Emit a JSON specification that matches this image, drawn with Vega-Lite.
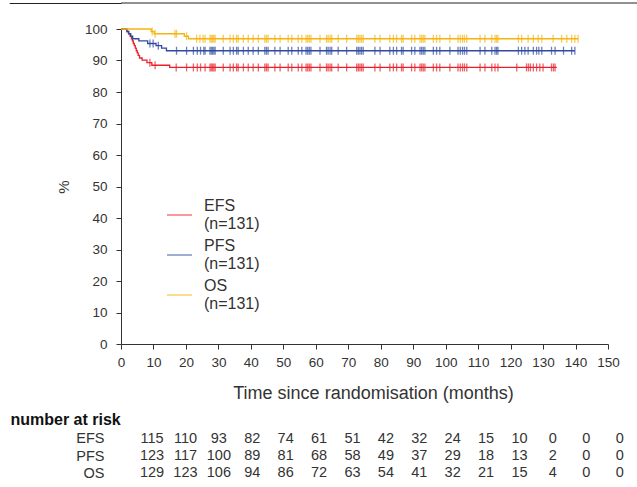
{
  "$schema": "https://vega.github.io/schema/vega-lite/v6.json",
  "padding": {"left": 0, "top": 0, "right": 0, "bottom": 0},
  "spacing": 8,
  "config": {
    "font": "Liberation Sans",
    "view": {"stroke": null},
    "axis": {"grid": false, "domainColor": "#333", "tickColor": "#333", "labelColor": "#333", "titleColor": "#333", "titleFontWeight": "normal", "labelFlush": false, "labelOverlap": false, "labelBound": false}
  },
  "datasets": {
    "km": [
      {"g": "EFS", "t": 0, "s": 100}, {"g": "EFS", "t": 1.8, "s": 99.2}, {"g": "EFS", "t": 2.3, "s": 98.5}, {"g": "EFS", "t": 2.8, "s": 97.7}, {"g": "EFS", "t": 3.2, "s": 96.9}, {"g": "EFS", "t": 3.5, "s": 96.2}, {"g": "EFS", "t": 3.8, "s": 95.4}, {"g": "EFS", "t": 4.1, "s": 94.7}, {"g": "EFS", "t": 4.4, "s": 93.9}, {"g": "EFS", "t": 4.7, "s": 93.1}, {"g": "EFS", "t": 5.0, "s": 92.4}, {"g": "EFS", "t": 5.3, "s": 91.6}, {"g": "EFS", "t": 5.7, "s": 90.8}, {"g": "EFS", "t": 6.5, "s": 90.1}, {"g": "EFS", "t": 8.0, "s": 89.3}, {"g": "EFS", "t": 9.5, "s": 88.5}, {"g": "EFS", "t": 15.0, "s": 87.8}, {"g": "EFS", "t": 134.2, "s": 87.8},
      {"g": "PFS", "t": 0, "s": 100}, {"g": "PFS", "t": 1.8, "s": 99.2}, {"g": "PFS", "t": 2.4, "s": 98.5}, {"g": "PFS", "t": 3.0, "s": 97.7}, {"g": "PFS", "t": 3.6, "s": 96.9}, {"g": "PFS", "t": 5.5, "s": 96.2}, {"g": "PFS", "t": 8.2, "s": 95.4}, {"g": "PFS", "t": 10.8, "s": 94.7}, {"g": "PFS", "t": 12.5, "s": 93.9}, {"g": "PFS", "t": 14.0, "s": 93.1}, {"g": "PFS", "t": 139.8, "s": 93.1},
      {"g": "OS", "t": 0, "s": 100}, {"g": "OS", "t": 9.3, "s": 99.2}, {"g": "OS", "t": 10.2, "s": 98.5}, {"g": "OS", "t": 19.5, "s": 97.7}, {"g": "OS", "t": 20.8, "s": 96.9}, {"g": "OS", "t": 140.8, "s": 96.9}
    ],
    "cens": [
      {"g": "OS", "t": 9.6, "s": 99.2}, {"g": "OS", "t": 10.5, "s": 98.5}, {"g": "OS", "t": 16.6, "s": 98.5}, {"g": "OS", "t": 17.1, "s": 98.5}, {"g": "OS", "t": 20.2, "s": 97.7},
      {"g": "OS", "t": 23.3, "s": 96.9}, {"g": "OS", "t": 24.3, "s": 96.9}, {"g": "OS", "t": 25.3, "s": 96.9}, {"g": "OS", "t": 25.9, "s": 96.9}, {"g": "OS", "t": 27.4, "s": 96.9}, {"g": "OS", "t": 27.8, "s": 96.9}, {"g": "OS", "t": 28.2, "s": 96.9}, {"g": "OS", "t": 28.6, "s": 96.9}, {"g": "OS", "t": 29.0, "s": 96.9},
      {"g": "OS", "t": 31.5, "s": 96.9}, {"g": "OS", "t": 33.6, "s": 96.9}, {"g": "OS", "t": 34.6, "s": 96.9}, {"g": "OS", "t": 35.6, "s": 96.9}, {"g": "OS", "t": 36.1, "s": 96.9}, {"g": "OS", "t": 37.7, "s": 96.9}, {"g": "OS", "t": 39.2, "s": 96.9}, {"g": "OS", "t": 40.7, "s": 96.9}, {"g": "OS", "t": 42.3, "s": 96.9}, {"g": "OS", "t": 44.3, "s": 96.9}, {"g": "OS", "t": 44.8, "s": 96.9}, {"g": "OS", "t": 45.3, "s": 96.9}, {"g": "OS", "t": 47.4, "s": 96.9}, {"g": "OS", "t": 49.0, "s": 96.9}, {"g": "OS", "t": 51.5, "s": 96.9}, {"g": "OS", "t": 52.6, "s": 96.9}, {"g": "OS", "t": 54.6, "s": 96.9}, {"g": "OS", "t": 55.7, "s": 96.9}, {"g": "OS", "t": 57.0, "s": 96.9}, {"g": "OS", "t": 57.5, "s": 96.9}, {"g": "OS", "t": 58.0, "s": 96.9}, {"g": "OS", "t": 58.5, "s": 96.9},
      {"g": "OS", "t": 61.3, "s": 96.9}, {"g": "OS", "t": 63.3, "s": 96.9}, {"g": "OS", "t": 63.8, "s": 96.9}, {"g": "OS", "t": 64.4, "s": 96.9}, {"g": "OS", "t": 64.9, "s": 96.9}, {"g": "OS", "t": 66.9, "s": 96.9}, {"g": "OS", "t": 69.5, "s": 96.9}, {"g": "OS", "t": 72.6, "s": 96.9}, {"g": "OS", "t": 73.1, "s": 96.9}, {"g": "OS", "t": 73.6, "s": 96.9}, {"g": "OS", "t": 74.1, "s": 96.9}, {"g": "OS", "t": 74.6, "s": 96.9}, {"g": "OS", "t": 78.2, "s": 96.9}, {"g": "OS", "t": 79.8, "s": 96.9}, {"g": "OS", "t": 82.8, "s": 96.9}, {"g": "OS", "t": 83.9, "s": 96.9}, {"g": "OS", "t": 84.9, "s": 96.9}, {"g": "OS", "t": 86.4, "s": 96.9}, {"g": "OS", "t": 86.9, "s": 96.9}, {"g": "OS", "t": 89.5, "s": 96.9}, {"g": "OS", "t": 90.5, "s": 96.9}, {"g": "OS", "t": 92.1, "s": 96.9}, {"g": "OS", "t": 92.6, "s": 96.9}, {"g": "OS", "t": 93.1, "s": 96.9}, {"g": "OS", "t": 93.6, "s": 96.9}, {"g": "OS", "t": 96.2, "s": 96.9}, {"g": "OS", "t": 97.2, "s": 96.9}, {"g": "OS", "t": 98.2, "s": 96.9},
      {"g": "OS", "t": 101.3, "s": 96.9}, {"g": "OS", "t": 103.8, "s": 96.9}, {"g": "OS", "t": 104.5, "s": 96.9}, {"g": "OS", "t": 105.2, "s": 96.9}, {"g": "OS", "t": 105.8, "s": 96.9}, {"g": "OS", "t": 106.5, "s": 96.9}, {"g": "OS", "t": 110.6, "s": 96.9}, {"g": "OS", "t": 112.1, "s": 96.9}, {"g": "OS", "t": 114.2, "s": 96.9}, {"g": "OS", "t": 115.2, "s": 96.9}, {"g": "OS", "t": 115.7, "s": 96.9}, {"g": "OS", "t": 116.1, "s": 96.9}, {"g": "OS", "t": 122.4, "s": 96.9}, {"g": "OS", "t": 123.4, "s": 96.9}, {"g": "OS", "t": 125.4, "s": 96.9}, {"g": "OS", "t": 127.0, "s": 96.9}, {"g": "OS", "t": 128.5, "s": 96.9}, {"g": "OS", "t": 129.6, "s": 96.9}, {"g": "OS", "t": 133.1, "s": 96.9}, {"g": "OS", "t": 135.7, "s": 96.9}, {"g": "OS", "t": 137.3, "s": 96.9}, {"g": "OS", "t": 138.8, "s": 96.9}, {"g": "OS", "t": 139.8, "s": 96.9}, {"g": "OS", "t": 140.8, "s": 96.9},

      {"g": "PFS", "t": 8.9, "s": 95.4}, {"g": "PFS", "t": 9.9, "s": 95.4}, {"g": "PFS", "t": 11.5, "s": 94.7}, {"g": "PFS", "t": 17.1, "s": 93.1}, {"g": "PFS", "t": 20.2, "s": 93.1}, {"g": "PFS", "t": 22.3, "s": 93.1}, {"g": "PFS", "t": 23.5, "s": 93.1}, {"g": "PFS", "t": 24.5, "s": 93.1}, {"g": "PFS", "t": 25.5, "s": 93.1}, {"g": "PFS", "t": 25.9, "s": 93.1}, {"g": "PFS", "t": 27.4, "s": 93.1}, {"g": "PFS", "t": 27.8, "s": 93.1}, {"g": "PFS", "t": 28.2, "s": 93.1}, {"g": "PFS", "t": 28.6, "s": 93.1}, {"g": "PFS", "t": 29.0, "s": 93.1},
      {"g": "PFS", "t": 31.5, "s": 93.1}, {"g": "PFS", "t": 33.6, "s": 93.1}, {"g": "PFS", "t": 34.6, "s": 93.1}, {"g": "PFS", "t": 35.6, "s": 93.1}, {"g": "PFS", "t": 36.1, "s": 93.1}, {"g": "PFS", "t": 37.7, "s": 93.1}, {"g": "PFS", "t": 39.2, "s": 93.1}, {"g": "PFS", "t": 40.7, "s": 93.1}, {"g": "PFS", "t": 42.3, "s": 93.1}, {"g": "PFS", "t": 44.3, "s": 93.1}, {"g": "PFS", "t": 44.8, "s": 93.1}, {"g": "PFS", "t": 45.3, "s": 93.1}, {"g": "PFS", "t": 47.4, "s": 93.1}, {"g": "PFS", "t": 49.0, "s": 93.1}, {"g": "PFS", "t": 51.5, "s": 93.1}, {"g": "PFS", "t": 52.6, "s": 93.1}, {"g": "PFS", "t": 54.6, "s": 93.1}, {"g": "PFS", "t": 55.7, "s": 93.1}, {"g": "PFS", "t": 57.0, "s": 93.1}, {"g": "PFS", "t": 57.5, "s": 93.1}, {"g": "PFS", "t": 58.0, "s": 93.1}, {"g": "PFS", "t": 58.5, "s": 93.1},
      {"g": "PFS", "t": 61.3, "s": 93.1}, {"g": "PFS", "t": 63.3, "s": 93.1}, {"g": "PFS", "t": 63.8, "s": 93.1}, {"g": "PFS", "t": 64.4, "s": 93.1}, {"g": "PFS", "t": 64.9, "s": 93.1}, {"g": "PFS", "t": 66.9, "s": 93.1}, {"g": "PFS", "t": 69.5, "s": 93.1}, {"g": "PFS", "t": 72.6, "s": 93.1}, {"g": "PFS", "t": 73.1, "s": 93.1}, {"g": "PFS", "t": 73.6, "s": 93.1}, {"g": "PFS", "t": 74.1, "s": 93.1}, {"g": "PFS", "t": 74.6, "s": 93.1}, {"g": "PFS", "t": 78.2, "s": 93.1}, {"g": "PFS", "t": 79.8, "s": 93.1}, {"g": "PFS", "t": 82.8, "s": 93.1}, {"g": "PFS", "t": 83.9, "s": 93.1}, {"g": "PFS", "t": 84.9, "s": 93.1}, {"g": "PFS", "t": 86.4, "s": 93.1}, {"g": "PFS", "t": 86.9, "s": 93.1}, {"g": "PFS", "t": 89.5, "s": 93.1}, {"g": "PFS", "t": 90.5, "s": 93.1}, {"g": "PFS", "t": 92.1, "s": 93.1}, {"g": "PFS", "t": 92.6, "s": 93.1}, {"g": "PFS", "t": 93.1, "s": 93.1}, {"g": "PFS", "t": 93.6, "s": 93.1}, {"g": "PFS", "t": 96.2, "s": 93.1}, {"g": "PFS", "t": 97.2, "s": 93.1}, {"g": "PFS", "t": 98.2, "s": 93.1},
      {"g": "PFS", "t": 101.3, "s": 93.1}, {"g": "PFS", "t": 103.8, "s": 93.1}, {"g": "PFS", "t": 104.5, "s": 93.1}, {"g": "PFS", "t": 105.2, "s": 93.1}, {"g": "PFS", "t": 105.8, "s": 93.1}, {"g": "PFS", "t": 106.5, "s": 93.1}, {"g": "PFS", "t": 110.6, "s": 93.1}, {"g": "PFS", "t": 112.1, "s": 93.1}, {"g": "PFS", "t": 114.2, "s": 93.1}, {"g": "PFS", "t": 115.2, "s": 93.1}, {"g": "PFS", "t": 115.7, "s": 93.1}, {"g": "PFS", "t": 116.1, "s": 93.1}, {"g": "PFS", "t": 122.4, "s": 93.1}, {"g": "PFS", "t": 123.4, "s": 93.1}, {"g": "PFS", "t": 124.4, "s": 93.1}, {"g": "PFS", "t": 125.4, "s": 93.1}, {"g": "PFS", "t": 127.0, "s": 93.1}, {"g": "PFS", "t": 128.0, "s": 93.1}, {"g": "PFS", "t": 128.7, "s": 93.1}, {"g": "PFS", "t": 129.6, "s": 93.1}, {"g": "PFS", "t": 132.6, "s": 93.1}, {"g": "PFS", "t": 133.7, "s": 93.1}, {"g": "PFS", "t": 136.3, "s": 93.1}, {"g": "PFS", "t": 138.8, "s": 93.1}, {"g": "PFS", "t": 139.8, "s": 93.1},

      {"g": "EFS", "t": 8.9, "s": 89.3}, {"g": "EFS", "t": 10.5, "s": 88.5}, {"g": "EFS", "t": 17.0, "s": 87.8}, {"g": "EFS", "t": 20.2, "s": 87.8}, {"g": "EFS", "t": 22.3, "s": 87.8}, {"g": "EFS", "t": 23.5, "s": 87.8}, {"g": "EFS", "t": 24.5, "s": 87.8}, {"g": "EFS", "t": 25.9, "s": 87.8}, {"g": "EFS", "t": 27.4, "s": 87.8}, {"g": "EFS", "t": 27.8, "s": 87.8}, {"g": "EFS", "t": 28.2, "s": 87.8}, {"g": "EFS", "t": 28.6, "s": 87.8}, {"g": "EFS", "t": 29.0, "s": 87.8},
      {"g": "EFS", "t": 31.5, "s": 87.8}, {"g": "EFS", "t": 33.6, "s": 87.8}, {"g": "EFS", "t": 34.6, "s": 87.8}, {"g": "EFS", "t": 35.6, "s": 87.8}, {"g": "EFS", "t": 36.1, "s": 87.8}, {"g": "EFS", "t": 37.7, "s": 87.8}, {"g": "EFS", "t": 39.2, "s": 87.8}, {"g": "EFS", "t": 40.7, "s": 87.8}, {"g": "EFS", "t": 42.3, "s": 87.8}, {"g": "EFS", "t": 44.3, "s": 87.8}, {"g": "EFS", "t": 44.8, "s": 87.8}, {"g": "EFS", "t": 45.3, "s": 87.8}, {"g": "EFS", "t": 47.4, "s": 87.8}, {"g": "EFS", "t": 49.0, "s": 87.8}, {"g": "EFS", "t": 51.5, "s": 87.8}, {"g": "EFS", "t": 52.6, "s": 87.8}, {"g": "EFS", "t": 54.6, "s": 87.8}, {"g": "EFS", "t": 55.7, "s": 87.8}, {"g": "EFS", "t": 57.0, "s": 87.8}, {"g": "EFS", "t": 57.5, "s": 87.8}, {"g": "EFS", "t": 58.0, "s": 87.8}, {"g": "EFS", "t": 58.5, "s": 87.8},
      {"g": "EFS", "t": 61.3, "s": 87.8}, {"g": "EFS", "t": 63.3, "s": 87.8}, {"g": "EFS", "t": 63.8, "s": 87.8}, {"g": "EFS", "t": 64.4, "s": 87.8}, {"g": "EFS", "t": 64.9, "s": 87.8}, {"g": "EFS", "t": 66.9, "s": 87.8}, {"g": "EFS", "t": 69.5, "s": 87.8}, {"g": "EFS", "t": 72.6, "s": 87.8}, {"g": "EFS", "t": 73.1, "s": 87.8}, {"g": "EFS", "t": 73.6, "s": 87.8}, {"g": "EFS", "t": 74.1, "s": 87.8}, {"g": "EFS", "t": 74.6, "s": 87.8}, {"g": "EFS", "t": 78.2, "s": 87.8}, {"g": "EFS", "t": 79.8, "s": 87.8}, {"g": "EFS", "t": 82.8, "s": 87.8}, {"g": "EFS", "t": 83.9, "s": 87.8}, {"g": "EFS", "t": 84.9, "s": 87.8}, {"g": "EFS", "t": 86.4, "s": 87.8}, {"g": "EFS", "t": 86.9, "s": 87.8}, {"g": "EFS", "t": 89.5, "s": 87.8}, {"g": "EFS", "t": 90.5, "s": 87.8}, {"g": "EFS", "t": 92.1, "s": 87.8}, {"g": "EFS", "t": 92.6, "s": 87.8}, {"g": "EFS", "t": 93.1, "s": 87.8}, {"g": "EFS", "t": 93.6, "s": 87.8}, {"g": "EFS", "t": 96.2, "s": 87.8}, {"g": "EFS", "t": 97.2, "s": 87.8}, {"g": "EFS", "t": 98.2, "s": 87.8},
      {"g": "EFS", "t": 101.3, "s": 87.8}, {"g": "EFS", "t": 103.8, "s": 87.8}, {"g": "EFS", "t": 104.5, "s": 87.8}, {"g": "EFS", "t": 105.2, "s": 87.8}, {"g": "EFS", "t": 105.8, "s": 87.8}, {"g": "EFS", "t": 106.5, "s": 87.8}, {"g": "EFS", "t": 110.6, "s": 87.8}, {"g": "EFS", "t": 112.1, "s": 87.8}, {"g": "EFS", "t": 114.2, "s": 87.8}, {"g": "EFS", "t": 115.2, "s": 87.8}, {"g": "EFS", "t": 116.1, "s": 87.8}, {"g": "EFS", "t": 121.9, "s": 87.8}, {"g": "EFS", "t": 124.9, "s": 87.8}, {"g": "EFS", "t": 125.5, "s": 87.8}, {"g": "EFS", "t": 126.1, "s": 87.8}, {"g": "EFS", "t": 127.0, "s": 87.8}, {"g": "EFS", "t": 128.0, "s": 87.8}, {"g": "EFS", "t": 129.0, "s": 87.8}, {"g": "EFS", "t": 130.0, "s": 87.8}, {"g": "EFS", "t": 132.6, "s": 87.8}, {"g": "EFS", "t": 133.2, "s": 87.8}, {"g": "EFS", "t": 133.7, "s": 87.8}
    ],
    "risk": [
      {"g": "EFS", "col": 0, "n": 115}, {"g": "EFS", "col": 1, "n": 110}, {"g": "EFS", "col": 2, "n": 93}, {"g": "EFS", "col": 3, "n": 82}, {"g": "EFS", "col": 4, "n": 74}, {"g": "EFS", "col": 5, "n": 61}, {"g": "EFS", "col": 6, "n": 51}, {"g": "EFS", "col": 7, "n": 42}, {"g": "EFS", "col": 8, "n": 32}, {"g": "EFS", "col": 9, "n": 24}, {"g": "EFS", "col": 10, "n": 15}, {"g": "EFS", "col": 11, "n": 10}, {"g": "EFS", "col": 12, "n": 0}, {"g": "EFS", "col": 13, "n": 0}, {"g": "EFS", "col": 14, "n": 0},
      {"g": "PFS", "col": 0, "n": 123}, {"g": "PFS", "col": 1, "n": 117}, {"g": "PFS", "col": 2, "n": 100}, {"g": "PFS", "col": 3, "n": 89}, {"g": "PFS", "col": 4, "n": 81}, {"g": "PFS", "col": 5, "n": 68}, {"g": "PFS", "col": 6, "n": 58}, {"g": "PFS", "col": 7, "n": 49}, {"g": "PFS", "col": 8, "n": 37}, {"g": "PFS", "col": 9, "n": 29}, {"g": "PFS", "col": 10, "n": 18}, {"g": "PFS", "col": 11, "n": 13}, {"g": "PFS", "col": 12, "n": 2}, {"g": "PFS", "col": 13, "n": 0}, {"g": "PFS", "col": 14, "n": 0},
      {"g": "OS", "col": 0, "n": 129}, {"g": "OS", "col": 1, "n": 123}, {"g": "OS", "col": 2, "n": 106}, {"g": "OS", "col": 3, "n": 94}, {"g": "OS", "col": 4, "n": 86}, {"g": "OS", "col": 5, "n": 72}, {"g": "OS", "col": 6, "n": 63}, {"g": "OS", "col": 7, "n": 54}, {"g": "OS", "col": 8, "n": 41}, {"g": "OS", "col": 9, "n": 32}, {"g": "OS", "col": 10, "n": 21}, {"g": "OS", "col": 11, "n": 15}, {"g": "OS", "col": 12, "n": 4}, {"g": "OS", "col": 13, "n": 0}, {"g": "OS", "col": 14, "n": 0}
    ]
  },
  "vconcat": [
    {
      "width": 516,
      "height": 11,
      "data": {"values": [{"v": 1}]},
      "mark": {"type": "rule", "color": "#222", "strokeWidth": 1},
      "encoding": {
        "y": {"field": "v", "type": "quantitative", "scale": {"domain": [0, 1], "nice": false},
          "axis": {"values": [1], "tickCount": 5, "ticks": true, "tickSize": 112, "tickWidth": 1, "tickColor": "#222", "labels": true, "labelFontSize": 6, "labelColor": "#ffffff", "labelPadding": 0, "domain": false, "title": null}}
      }
    },
    {
      "width": 487,
      "height": 315,
      "encoding": {
        "x": {"field": "t", "type": "quantitative", "scale": {"domain": [0, 150], "nice": false},
          "axis": {"values": [0,10,20,30,40,50,60,70,80,90,100,110,120,130,140,150], "tickCount": 20, "tickSize": 5, "labelPadding": 6, "labelFontSize": 13.5, "title": "Time since randomisation (months)", "titleFontSize": 18, "titlePadding": 16, "titleX": 252}},
        "y": {"field": "s", "type": "quantitative", "scale": {"domain": [0, 100], "nice": false},
          "axis": {"values": [0,10,20,30,40,50,60,70,80,90,100], "tickCount": 20, "tickSize": 5, "labelPadding": 9, "labelFontSize": 13.5, "title": "%", "titleFontSize": 15, "titlePadding": 13}},
        "color": {"field": "g", "type": "nominal",
          "scale": {"domain": ["EFS", "PFS", "OS"], "range": ["#e8202a", "#2f4b9f", "#f6b40e"]},
          "legend": {"orient": "none", "legendX": 45, "legendY": 189, "title": null, "symbolType": "M-1,0.76L1,0.76", "symbolSize": 625, "symbolStrokeWidth": 1.3, "labelFontSize": 16, "labelColor": "#333", "labelExpr": "[datum.label, '(n=131)']", "rowPadding": -1, "labelOffset": 11, "padding": 0, "labelLimit": 0, "labelBaseline": "middle",
            "encoding": {"labels": {"update": {"lineHeight": {"value": 19}}}}}}
      },
      "layer": [
        {
          "data": {"name": "km"},
          "mark": {"type": "line", "interpolate": "step-after", "strokeWidth": 1.3}
        },
        {
          "data": {"name": "cens"},
          "mark": {"type": "tick", "orient": "vertical", "size": 8, "thickness": 1.3}
        }
      ]
    },
    {
      "width": 487,
      "height": 52,
      "data": {"name": "risk"},
      "mark": {"type": "text", "fontSize": 14.5, "color": "#333"},
      "encoding": {
        "x": {"field": "col", "type": "quantitative", "scale": {"domain": [-0.93, 13.65], "nice": false, "zero": false}, "axis": null},
        "y": {"field": "g", "type": "nominal", "scale": {"domain": ["EFS", "PFS", "OS"]},
          "axis": {"title": "number at risk", "titleAngle": 0, "titleAlign": "left", "titleBaseline": "middle", "titleX": -111, "titleY": -11, "titleFontWeight": "bold", "titleFontSize": 16, "titleColor": "#111", "domain": false, "ticks": false, "labelPadding": 17, "labelFontSize": 14.5, "labelColor": "#333"}},
        "text": {"field": "n", "type": "quantitative"}
      }
    }
  ]
}
